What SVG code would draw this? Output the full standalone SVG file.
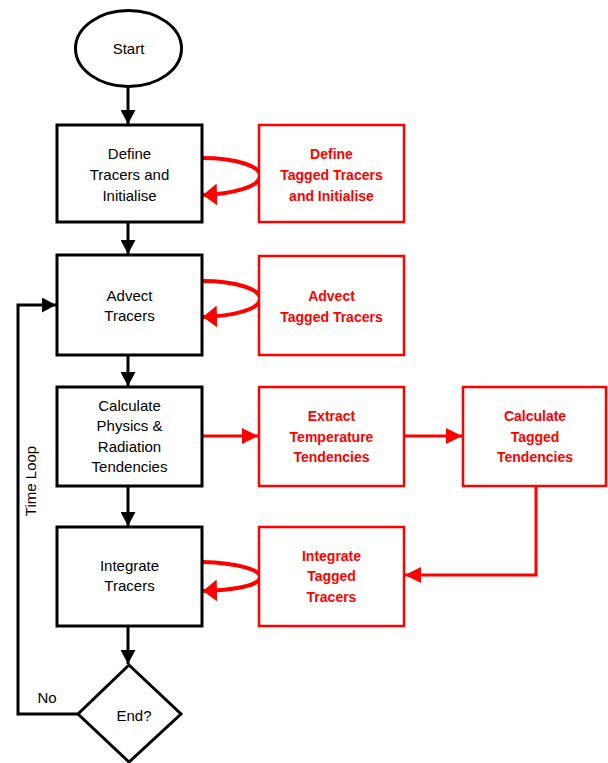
<svg xmlns="http://www.w3.org/2000/svg" width="608" height="763" viewBox="0 0 608 763">
<style>
.bk{fill:#fff;stroke:#000;stroke-width:3}
.rd{fill:#fff;stroke:#f00;stroke-width:2.5}
.t{font-family:"Liberation Sans",Arial,sans-serif;font-size:15px;fill:#000;text-anchor:middle}
.tr{font-family:"Liberation Sans",Arial,sans-serif;font-size:14px;font-weight:bold;fill:#f00;text-anchor:middle}
.cb{fill:none;stroke:#000;stroke-width:3}
.cr{fill:none;stroke:#f00;stroke-width:3}
.lp{fill:none;stroke:#f00;stroke-width:4}
</style>
<defs>
<marker id="ab" markerUnits="userSpaceOnUse" markerWidth="14" markerHeight="15" viewBox="0 0 14 15" refX="14" refY="7.5" orient="auto"><path d="M0,0 L14,7.5 L0,15 z" fill="#000"/></marker>
<marker id="ar" markerUnits="userSpaceOnUse" markerWidth="16" markerHeight="16" viewBox="0 0 16 16" refX="16" refY="8" orient="auto"><path d="M0,0 L16,8 L0,16 z" fill="#f00"/></marker>
<marker id="al" markerUnits="userSpaceOnUse" markerWidth="14" markerHeight="22" viewBox="0 0 14 22" refX="14" refY="11" orient="auto"><path d="M0,0 L14,11 L0,22 z" fill="#f00"/></marker>
</defs>
<g id="connectors">
<line class="cb" x1="128" y1="87" x2="128" y2="124" marker-end="url(#ab)"/>
<line class="cb" x1="128" y1="222" x2="128" y2="254" marker-end="url(#ab)"/>
<line class="cb" x1="128" y1="355" x2="128" y2="386" marker-end="url(#ab)"/>
<line class="cb" x1="128" y1="486" x2="128" y2="526" marker-end="url(#ab)"/>
<line class="cb" x1="128" y1="626" x2="128" y2="664" marker-end="url(#ab)"/>
<polyline class="cb" points="78,714 18,714 18,305 56,305" marker-end="url(#ab)"/>
<path class="lp" d="M202,158 C238,158 262,167 260,177 C258,187 232,194 203,195" marker-end="url(#al)"/>
<path class="lp" d="M202,281 C238,281 262,290 260,300 C258,310 232,316 203,317" marker-end="url(#al)"/>
<path class="lp" d="M202,562 C238,563 262,570 260,578 C258,586 232,590 203,591" marker-end="url(#al)"/>
<line class="cr" x1="202" y1="436" x2="258" y2="436" marker-end="url(#ar)"/>
<line class="cr" x1="404" y1="436" x2="462" y2="436" marker-end="url(#ar)"/>
<polyline class="cr" points="536,486 536,575 405,575" marker-end="url(#ar)"/>
<text class="t" transform="translate(36,481) rotate(-90)">Time Loop</text>
<text class="t" x="47" y="703">No</text>
</g>
<g id="start"><ellipse class="bk" cx="128.5" cy="48.5" rx="53" ry="38"/><text class="t" x="128.5" y="54">Start</text></g>
<g id="define"><rect class="bk" x="57" y="125" width="145" height="97"/><text class="t" x="129.5" y="159">Define</text><text class="t" x="129.5" y="180">Tracers and</text><text class="t" x="129.5" y="201">Initialise</text></g>
<g id="define-tagged"><rect class="rd" x="259" y="125" width="145" height="97"/><text class="tr" x="331.5" y="159">Define</text><text class="tr" x="331.5" y="180">Tagged Tracers</text><text class="tr" x="331.5" y="201">and Initialise</text></g>
<g id="advect"><rect class="bk" x="57" y="255" width="145" height="100"/><text class="t" x="129.5" y="301">Advect</text><text class="t" x="129.5" y="321">Tracers</text></g>
<g id="advect-tagged"><rect class="rd" x="259" y="256" width="145" height="99"/><text class="tr" x="331.5" y="301">Advect</text><text class="tr" x="331.5" y="322">Tagged Tracers</text></g>
<g id="calculate"><rect class="bk" x="57" y="387" width="145" height="99"/><text class="t" x="129.5" y="411">Calculate</text><text class="t" x="129.5" y="431">Physics &amp;</text><text class="t" x="129.5" y="452">Radiation</text><text class="t" x="129.5" y="472">Tendencies</text></g>
<g id="extract"><rect class="rd" x="259" y="387" width="145" height="99"/><text class="tr" x="331.5" y="421">Extract</text><text class="tr" x="331.5" y="442">Temperature</text><text class="tr" x="331.5" y="462">Tendencies</text></g>
<g id="calc-tagged"><rect class="rd" x="463" y="387" width="143" height="99"/><text class="tr" x="535" y="421">Calculate</text><text class="tr" x="535" y="442">Tagged</text><text class="tr" x="535" y="462">Tendencies</text></g>
<g id="integrate"><rect class="bk" x="57" y="527" width="145" height="99"/><text class="t" x="129.5" y="571">Integrate</text><text class="t" x="129.5" y="591">Tracers</text></g>
<g id="integrate-tagged"><rect class="rd" x="259" y="527" width="145" height="99"/><text class="tr" x="331.5" y="561">Integrate</text><text class="tr" x="331.5" y="581">Tagged</text><text class="tr" x="331.5" y="602">Tracers</text></g>
<g id="end"><polygon class="bk" points="129,665 181,714 129,762 78,714"/><text class="t" x="134" y="721">End?</text></g>
</svg>
